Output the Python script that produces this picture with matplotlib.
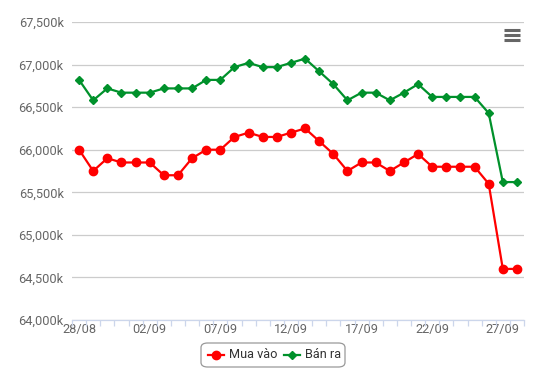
import matplotlib
matplotlib.use("Agg")
import matplotlib.pyplot as plt
from matplotlib.patches import FancyBboxPatch
from matplotlib.lines import Line2D

dates = ["28/08", "29/08", "30/08", "31/08", "01/09", "02/09", "03/09", "04/09",
         "05/09", "06/09", "07/09", "08/09", "09/09", "10/09", "11/09", "12/09",
         "13/09", "14/09", "15/09", "16/09", "17/09", "18/09", "19/09", "20/09",
         "21/09", "22/09", "23/09", "24/09", "25/09", "26/09", "27/09", "28/09"]
mua_vao = [66000, 65750, 65900, 65850, 65850, 65850, 65700, 65700, 65900, 66000,
           66000, 66150, 66200, 66150, 66150, 66200, 66250, 66100, 65950, 65750,
           65850, 65850, 65750, 65850, 65950, 65800, 65800, 65800, 65800, 65600,
           64600, 64600]
ban_ra = [66820, 66580, 66720, 66670, 66670, 66670, 66720, 66720, 66720, 66820,
          66820, 66970, 67020, 66970, 66970, 67020, 67070, 66920, 66770, 66580,
          66670, 66670, 66580, 66670, 66770, 66620, 66620, 66620, 66620, 66430,
          65620, 65620]
y_ticks = [64000, 64500, 65000, 65500, 66000, 66500, 67000, 67500]

plt.rcParams['font.family'] = ['Roboto', 'DejaVu Sans']

W, H = 552, 381
fig = plt.figure(figsize=(W / 100, H / 100), dpi=100)
ax = fig.add_axes([72 / W, (H - 320) / H, (524 - 72) / W, (320 - 22) / H])

x = list(range(len(dates)))
ax.plot(x, mua_vao, color="#ff0000", lw=1.6, marker="o", ms=6, zorder=3,
        label="Mua vào")
ax.plot(x, ban_ra, color="#00912b", lw=1.6, marker="D", ms=4.5, zorder=3,
        label="Bán ra")

ax.set_xlim(-0.5, len(dates) - 0.5)
ax.set_ylim(64000, 67500)
ax.set_yticks(y_ticks)
ax.set_yticklabels([f"{v:,}k" for v in y_ticks])
ax.yaxis.grid(True, color="#cccccc", lw=0.9)
ax.set_axisbelow(True)
ax.tick_params(axis="y", length=0, pad=6, labelsize=9.2, labelcolor="#666666")

ax.set_xticks([i for i in x if i % 5 == 0])
ax.set_xticklabels([dates[i] for i in x if i % 5 == 0])
ax.set_xticks([i - 0.5 for i in range(len(dates) + 1)], minor=True)
ax.tick_params(axis="x", which="major", length=0, pad=2.5, labelsize=9.2,
               labelcolor="#666666")
ax.tick_params(axis="x", which="minor", length=4.5, color="#ccd6eb", width=0.9)

for s in ["top", "right", "left"]:
    ax.spines[s].set_visible(False)
ax.spines["bottom"].set_color("#ccd6eb")
ax.spines["bottom"].set_linewidth(0.9)

# legend box
box = FancyBboxPatch((201 / W, (H - 367) / H), (345 - 201) / W, (367 - 343) / H,
                     boxstyle="round,pad=0,rounding_size=0.012",
                     transform=fig.transFigure, fc="white", ec="#999999", lw=0.9)
fig.patches.append(box)
ly = (H - 355) / H
fig.lines.append(Line2D([208 / W, 224 / W], [ly, ly], color="#ff0000", lw=1.6,
                        transform=fig.transFigure))
fig.lines.append(Line2D([216 / W], [ly], color="#ff0000", marker="o", ms=6,
                        transform=fig.transFigure))
fig.text(229 / W, ly, "Mua vào", fontsize=9.2, color="#333333", va="center",
         ha="left")
fig.lines.append(Line2D([284 / W, 300 / W], [ly, ly], color="#00912b", lw=1.6,
                        transform=fig.transFigure))
fig.lines.append(Line2D([292 / W], [ly], color="#00912b", marker="D", ms=4.5,
                        transform=fig.transFigure))
fig.text(305 / W, ly, "Bán ra", fontsize=9.2, color="#333333", va="center",
         ha="left")

# menu icon
for yy in (29.5, 34.5, 39.5):
    fig.lines.append(Line2D([504 / W, 520 / W], [(H - yy) / H] * 2,
                            color="#666666", lw=2.2, solid_capstyle="butt",
                            transform=fig.transFigure))

fig.savefig("out.png", dpi=100)
